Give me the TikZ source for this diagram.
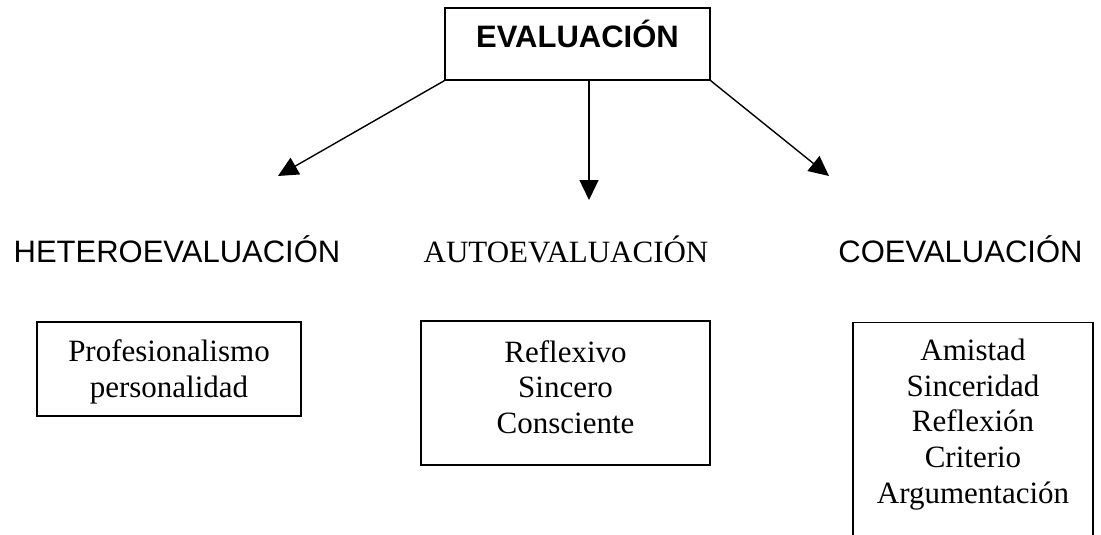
\documentclass[tikz,border=0pt]{standalone}
\usepackage{fontspec}
\setmainfont{Liberation Serif}
\newfontfamily\arialfont{Liberation Sans}
\usetikzlibrary{arrows.meta}
\begin{document}
\begin{tikzpicture}[x=1pt,y=-1pt,
  box/.style={draw=black, line width=1.4pt, inner sep=0pt},
  serif/.style={font=\fontsize{31}{35.7}\selectfont, align=center, inner sep=0pt},
  sans/.style={font=\arialfont\fontsize{31}{35.7}\selectfont, inner sep=0pt},
  arr/.style={line width=1.4pt, -{Triangle[length=20pt,width=19pt]}}]
\useasboundingbox (0,0) rectangle (1101,535);
% top
\node[box, font=\arialfont\bfseries\fontsize{31}{35.7}\selectfont, minimum width=265pt, text height=40pt, text depth=32pt, anchor=base] (top) at (577.5,48) {EVALUACIÓN};
% labels
\node[sans, anchor=base] (het) at (177,262) {HETEROEVALUACIÓN};
\node[serif, anchor=base] (auto) at (566,262) {AUTOEVALUACIÓN};
\node[sans, anchor=base] (coe) at (960.5,262) {COEVALUACIÓN};
% boxes
\node[box, minimum width=264pt, minimum height=94pt] (hbox) at (169,369) {};
\node[serif] (htext) at (169,372) {Profesionalismo\\personalidad};
\node[box, minimum width=289pt, minimum height=144pt] (abox) at (565.5,393) {};
\node[serif] (atext) at (565.5,387) {Reflexivo\\Sincero\\Consciente};
\begin{scope}
\clip (0,0) rectangle (1101,535);
\node[box, minimum width=240pt, minimum height=240pt, anchor=north] (cbox) at (973,322) {};
\end{scope}
\node[serif] (ctext) at (973,424.5) {Amistad\\Sinceridad\\Reflexión\\Criterio\\Argumentación};
% arrows
\coordinate (tipL) at (278,176);
\coordinate (tipC) at (589,200);
\coordinate (tipR) at (829,176);
\draw[arr] (top.south west) -- (tipL);
\draw[arr] (top.south -| tipC) -- (tipC);
\draw[arr] (top.south east) -- (tipR);
\end{tikzpicture}
\end{document}
